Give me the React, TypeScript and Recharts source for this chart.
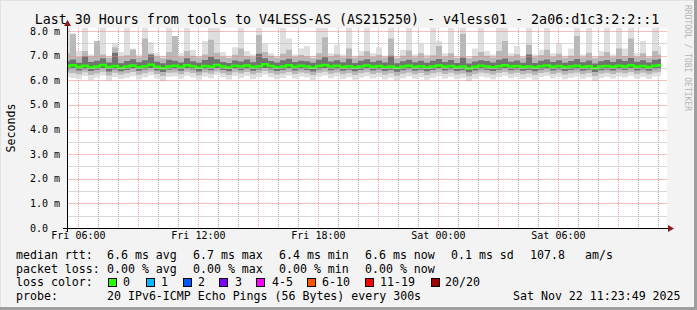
import {
  ComposedChart,
  Area,
  Line,
  XAxis,
  YAxis,
  CartesianGrid,
} from 'recharts';

const MONO = '"DejaVu Sans Mono", "Liberation Mono", monospace';

// 100 samples, 18 minutes apart, hours counted from Fri 00:00
const T0 = 5.43;
const STEP = 0.3;
const Y_MAX = 8.13;
const PLOT_TOP = 28;
const PLOT_H = 200;

const median = [
  6.58, 6.62, 6.55, 6.6, 6.52, 6.57, 6.63, 6.54, 6.59, 6.5,
  6.56, 6.61, 6.53, 6.58, 6.64, 6.55, 6.49, 6.57, 6.6, 6.54,
  6.62, 6.58, 6.51, 6.59, 6.55, 6.63, 6.57, 6.52, 6.6, 6.56,
  6.61, 6.54, 6.58, 6.66, 6.59, 6.53, 6.57, 6.62, 6.55, 6.6,
  6.57, 6.51, 6.59, 6.63, 6.56, 6.6, 6.54, 6.58, 6.52, 6.57,
  6.61, 6.55, 6.59, 6.53, 6.57, 6.5, 6.56, 6.6, 6.54, 6.58,
  6.52, 6.57, 6.61, 6.55, 6.59, 6.53, 6.56, 6.48, 6.55, 6.6,
  6.57, 6.53, 6.58, 6.62, 6.56, 6.59, 6.54, 6.57, 6.52, 6.58,
  6.61, 6.55, 6.59, 6.53, 6.57, 6.6, 6.54, 6.58, 6.49, 6.56,
  6.59, 6.55, 6.6, 6.57, 6.62, 6.55, 6.59, 6.54, 6.6, 6.62,
];

const darkHi = [
  6.78, 6.85, 6.72, 6.98, 6.75, 6.8, 6.9, 6.73, 7.12, 6.7,
  6.79, 6.86, 6.74, 6.82, 7.04, 6.76, 6.7, 6.84, 6.8, 6.73,
  6.9, 6.78, 6.72, 6.83, 6.96, 6.86, 6.75, 6.71, 6.81, 6.77,
  6.85, 6.74, 7.08, 6.9, 6.79, 6.73, 6.82, 6.88, 6.75, 6.8,
  6.78, 6.72, 6.84, 6.94, 6.77, 6.82, 6.74, 6.88, 6.71, 6.8,
  6.86, 6.75, 6.81, 6.73, 7.0, 6.7, 6.78, 6.84, 6.74, 6.8,
  6.72, 6.8, 6.87, 6.75, 6.83, 6.71, 6.92, 6.69, 6.77, 6.82,
  6.79, 6.73, 6.84, 6.89, 6.76, 6.81, 6.72, 7.05, 6.71, 6.8,
  6.85, 6.75, 6.82, 6.72, 6.79, 6.87, 6.74, 6.81, 6.69, 6.78,
  6.83, 6.75, 6.86, 6.79, 6.91, 6.76, 6.82, 6.73, 6.84, 6.87,
];

const darkLo = [
  6.44, 6.47, 6.4, 6.45, 6.38, 6.43, 6.48, 6.36, 6.44, 6.37,
  6.42, 6.46, 6.39, 6.44, 6.49, 6.4, 6.34, 6.43, 6.45, 6.39,
  6.47, 6.44, 6.36, 6.45, 6.41, 6.48, 6.42, 6.37, 6.46, 6.41,
  6.46, 6.39, 6.44, 6.5, 6.44, 6.38, 6.42, 6.47, 6.4, 6.45,
  6.42, 6.36, 6.44, 6.48, 6.41, 6.45, 6.39, 6.43, 6.37, 6.42,
  6.46, 6.4, 6.44, 6.38, 6.42, 6.35, 6.41, 6.45, 6.39, 6.43,
  6.37, 6.42, 6.46, 6.4, 6.44, 6.38, 6.41, 6.33, 6.4, 6.45,
  6.42, 6.38, 6.43, 6.47, 6.41, 6.44, 6.39, 6.42, 6.37, 6.43,
  6.46, 6.4, 6.44, 6.38, 6.42, 6.45, 6.39, 6.43, 6.34, 6.41,
  6.44, 6.4, 6.45, 6.42, 6.47, 6.4, 6.44, 6.39, 6.45, 6.47,
];

const midHi = [
  7.1, 7.9, 6.95, 7.2, 6.98, 7.6, 7.05, 6.92, 7.35, 6.96,
  7.02, 7.25, 6.94, 7.7, 7.1, 6.97, 6.9, 7.15, 7.8, 6.95,
  7.2, 7.0, 6.93, 7.05, 7.65, 7.12, 6.96, 6.91, 7.04, 7.3,
  6.98, 6.94, 7.85, 7.15, 7.0, 6.92, 7.08, 7.25, 6.95, 7.03,
  6.97, 6.9, 7.1, 7.75, 6.98, 7.06, 6.93, 7.3, 6.92, 7.0,
  7.18, 6.95, 7.04, 6.93, 7.7, 6.9, 7.0, 7.22, 6.94, 7.1,
  6.92, 7.02, 7.4, 6.96, 7.1, 6.91, 7.9, 6.9, 6.99, 7.15,
  7.0, 6.93, 7.2, 7.6, 6.97, 7.06, 6.92, 7.45, 6.94, 7.03,
  7.25, 6.95, 7.08, 6.92, 7.0, 7.8, 6.94, 7.12, 6.9, 6.98,
  7.15, 6.94, 7.3, 6.99, 7.7, 6.96, 7.1, 6.92, 7.2, 7.05,
];

const midLo = [
  6.32, 6.3, 6.25, 6.33, 6.22, 6.28, 6.35, 6.2, 6.31, 6.24,
  6.29, 6.34, 6.23, 6.3, 6.36, 6.26, 6.18, 6.31, 6.32, 6.25,
  6.35, 6.3, 6.21, 6.32, 6.27, 6.36, 6.29, 6.22, 6.33, 6.28,
  6.34, 6.25, 6.31, 6.38, 6.3, 6.24, 6.28, 6.34, 6.26, 6.32,
  6.29, 6.21, 6.31, 6.35, 6.27, 6.32, 6.25, 6.3, 6.22, 6.29,
  6.33, 6.26, 6.31, 6.23, 6.29, 6.19, 6.27, 6.32, 6.25, 6.3,
  6.22, 6.29, 6.33, 6.26, 6.31, 6.24, 6.28, 6.17, 6.26, 6.32,
  6.29, 6.24, 6.3, 6.34, 6.27, 6.31, 6.25, 6.29, 6.22, 6.3,
  6.33, 6.26, 6.31, 6.24, 6.29, 6.32, 6.25, 6.3, 6.18, 6.28,
  6.31, 6.26, 6.32, 6.29, 6.34, 6.26, 6.31, 6.25, 6.32, 6.34,
];

const lightHi = [
  8.2, 7.6, 7.2, 8.2, 7.05, 7.4, 8.2, 7.0, 7.5, 7.15,
  8.2, 7.3, 7.05, 8.2, 7.55, 7.1, 7.0, 8.2, 7.45, 7.1,
  8.2, 7.25, 7.0, 7.6, 8.2, 8.2, 7.15, 7.0, 7.35, 8.2,
  7.2, 7.05, 8.2, 7.5, 7.1, 7.0, 8.2, 7.7, 7.05, 7.3,
  7.4, 7.0, 8.2, 8.2, 7.1, 7.45, 7.05, 8.2, 7.0, 7.2,
  8.2, 7.1, 7.35, 7.0, 8.2, 6.98, 7.25, 8.2, 7.05, 7.5,
  7.05, 8.2, 7.6, 7.1, 8.2, 7.0, 8.2, 6.98, 7.3, 8.2,
  7.2, 7.05, 8.2, 8.2, 7.1, 7.4, 7.0, 8.2, 7.05, 7.25,
  8.2, 7.1, 7.5, 7.0, 7.3, 8.2, 7.05, 8.2, 6.98, 7.2,
  8.2, 7.05, 8.2, 7.3, 8.2, 7.1, 7.6, 7.0, 8.2, 7.4,
];

const lightLo = [
  6.15, 6.1, 6.05, 6.18, 6.02, 6.12, 6.2, 6.0, 6.14, 6.06,
  6.11, 6.17, 6.04, 6.13, 6.21, 6.08, 5.98, 6.15, 6.16, 6.07,
  6.19, 6.12, 6.03, 6.16, 6.09, 6.22, 6.13, 6.04, 6.18, 6.1,
  6.18, 6.06, 6.14, 6.24, 6.13, 6.05, 6.1, 6.19, 6.08, 6.16,
  6.12, 6.02, 6.15, 6.2, 6.09, 6.16, 6.06, 6.13, 6.03, 6.11,
  6.17, 6.08, 6.14, 6.04, 6.11, 5.99, 6.09, 6.16, 6.07, 6.13,
  6.03, 6.11, 6.18, 6.08, 6.15, 6.05, 6.1, 5.97, 6.08, 6.16,
  6.12, 6.05, 6.14, 6.19, 6.09, 6.15, 6.06, 6.12, 6.03, 6.14,
  6.18, 6.08, 6.15, 6.05, 6.11, 6.16, 6.07, 6.13, 5.98, 6.1,
  6.15, 6.08, 6.16, 6.12, 6.19, 6.08, 6.14, 6.06, 6.16, 6.19,
];

const xTicks = [6, 12, 18, 24, 30];
const xTickLabels = ['Fri 06:00', 'Fri 12:00', 'Fri 18:00', 'Sat 00:00', 'Sat 06:00'];
const majorHours = [6, 9, 12, 15, 18, 21, 24, 27, 30, 33];
const minorHours = [7, 8, 10, 11, 13, 14, 16, 17, 19, 20, 22, 23, 25, 26, 28, 29, 31, 32, 34, 35];
const yTicks = [0, 1, 2, 3, 4, 5, 6, 7, 8];
const yTickLabels = ['0.0', '1.0 m', '2.0 m', '3.0 m', '4.0 m', '5.0 m', '6.0 m', '7.0 m', '8.0 m'];
const majorMs = [1, 2, 3, 4, 5, 6, 7, 8];
const minorMs = [0.5, 1.5, 2.5, 3.5, 4.5, 5.5, 6.5, 7.5];

const lossColors = [
  { label: '0', color: '#26ff00', box: 108, text: 123 },
  { label: '1', color: '#00b8ff', box: 146, text: 161 },
  { label: '2', color: '#0059ff', box: 183, text: 198 },
  { label: '3', color: '#7e00ff', box: 219, text: 235 },
  { label: '4-5', color: '#ff00ff', box: 256, text: 272 },
  { label: '6-10', color: '#ff5500', box: 307, text: 322 },
  { label: '11-19', color: '#ff0000', box: 365, text: 380 },
  { label: '20/20', color: '#a10000', box: 431, text: 445 },
];

const rttRow = [
  { x: 16, s: 'median rtt:' },
  { x: 107, s: '6.6 ms avg' },
  { x: 193, s: '6.7 ms max' },
  { x: 279, s: '6.4 ms min' },
  { x: 365, s: '6.6 ms now' },
  { x: 451, s: '0.1 ms sd' },
  { x: 530, s: '107.8' },
  { x: 585, s: 'am/s' },
];
const lossRow = [
  { x: 16, s: 'packet loss:' },
  { x: 107, s: '0.00 % avg' },
  { x: 193, s: '0.00 % max' },
  { x: 279, s: '0.00 % min' },
  { x: 365, s: '0.00 % now' },
];

const data = median.map((m, i) => ({
  t: T0 + i * STEP,
  light: [lightLo[i], lightHi[i]],
  mid: [midLo[i], midHi[i]],
  dark: [darkLo[i], darkHi[i]],
  med: m,
}));

const W = 697;
const H = 310;

// same linear mapping the y axis uses, for the horizontal grid rows
const rowY = (v: number) => Math.round(PLOT_TOP + PLOT_H * (1 - v / Y_MAX));

// y labels are left-aligned at a fixed column, like rrdtool does
const YTick = (props: any) => {
  const { y, payload } = props;
  return (
    <text x={30} y={y + 3.5} fontSize={10} fontFamily={MONO} fill="#000">
      {yTickLabels[yTicks.indexOf(payload.value)]}
    </text>
  );
};

export default function App() {
  return (
    <div style={{ position: 'absolute', left: 0, top: 0, width: W, height: H, background: '#f3f3f3' }}>
      <ComposedChart
        width={W}
        height={H}
        data={data}
        margin={{ top: PLOT_TOP, right: 30, bottom: 62, left: 0 }}
      >
        <CartesianGrid
          fill="#ffffff"
          stroke="#aaaaaa"
          strokeDasharray="1 1"
          horizontal={false}
          verticalValues={minorHours}
        />
        <CartesianGrid
          stroke="#f29a9a"
          strokeDasharray="1 1"
          horizontal={false}
          verticalValues={majorHours}
        />
        <XAxis
          type="number"
          dataKey="t"
          domain={[T0, T0 + 30]}
          ticks={xTicks}
          tickFormatter={(v: number) => xTickLabels[xTicks.indexOf(v)]}
          height={20}
          tickLine={false}
          tickSize={0}
          tickMargin={4}
          axisLine={false}
          tick={{ fill: '#000', fontSize: 10, fontFamily: MONO }}
          allowDataOverflow
        />
        <YAxis
          type="number"
          domain={[0, Y_MAX]}
          ticks={yTicks}
          width={67}
          tickLine={false}
          axisLine={false}
          tick={<YTick />}
          allowDataOverflow
        />
        <Area type="step" dataKey="light" stroke="none" fill="#dcdcdc" fillOpacity={0.9} isAnimationActive={false} />
        <Area type="step" dataKey="mid" stroke="none" fill="#b4b4b4" fillOpacity={0.9} isAnimationActive={false} />
        <Area type="step" dataKey="dark" stroke="none" fill="#6a6a6a" fillOpacity={0.9} isAnimationActive={false} />
        <Line
          type="step"
          dataKey="med"
          stroke="#26ff00"
          strokeWidth={2.5}
          dot={false}
          isAnimationActive={false}
        />
      </ComposedChart>

      <svg
        width={W}
        height={H}
        style={{ position: 'absolute', left: 0, top: 0, pointerEvents: 'none' }}
        fontFamily={MONO}
      >
        {/* horizontal grid rows, drawn as 1px rects */}
        {minorMs.map((v) => (
          <rect key={'n' + v} x={68} y={rowY(v)} width={599} height={1} fill="#c0c0c0" fillOpacity={0.6} />
        ))}
        {majorMs.map((v) => (
          <rect key={'j' + v} x={68} y={rowY(v)} width={599} height={1} fill="#f08080" fillOpacity={0.5} />
        ))}

        {/* frame */}
        <rect x={0} y={0} width={W} height={1} fill="#e2e2e2" />
        <rect x={0} y={0} width={1} height={H} fill="#e2e2e2" />
        <rect x={W - 3} y={0} width={3} height={H} fill="#9e9e9e" />
        <rect x={0} y={H - 3} width={W} height={3} fill="#9e9e9e" />

        {/* axes */}
        <rect x={63} y={228} width={606} height={1} fill="#000" />
        <rect x={67} y={25} width={1} height={207} fill="#000" />
        <polygon points="668,225 674,228.5 668,232" fill="#8b1a1a" />
        <polygon points="64,26 67.5,20 71,26" fill="#8b1a1a" />

        <text x={347} y={23.5} fontSize={13.3} textAnchor="middle" fill="#000">
          Last 30 Hours from tools to V4LESS-AS (AS215250) - v4less01 - 2a06:d1c3:2:2::1
        </text>
        <text x={15} y={128} fontSize={11.6} textAnchor="middle" fill="#000" transform="rotate(-90 15 128)">
          Seconds
        </text>
        <text x={685} y={5} fontSize={8} fill="#b4b4b4" transform="rotate(90 685 5)">
          RRDTOOL / TOBI OETIKER
        </text>

        {rttRow.map((r) => (
          <text key={r.s} x={r.x} y={258.8} fontSize={11.6} fill="#000">{r.s}</text>
        ))}
        {lossRow.map((r) => (
          <text key={r.s + r.x} x={r.x} y={272.5} fontSize={11.6} fill="#000">{r.s}</text>
        ))}
        <text x={16} y={286.2} fontSize={11.6} fill="#000">loss color:</text>
        {lossColors.map((c) => (
          <g key={c.label}>
            <rect x={c.box + 0.5} y={278.5} width={8} height={8} fill={c.color} stroke="#000" />
            <text x={c.text} y={286.2} fontSize={11.6} fill="#000">{c.label}</text>
          </g>
        ))}
        <text x={16} y={299.9} fontSize={11.6} fill="#000">probe:</text>
        <text x={107} y={299.9} fontSize={11.6} fill="#000">
          20 IPv6-ICMP Echo Pings (56 Bytes) every 300s
        </text>
        <text x={513} y={299.9} fontSize={11.6} fill="#000">Sat Nov 22 11:23:49 2025</text>
      </svg>
    </div>
  );
}
